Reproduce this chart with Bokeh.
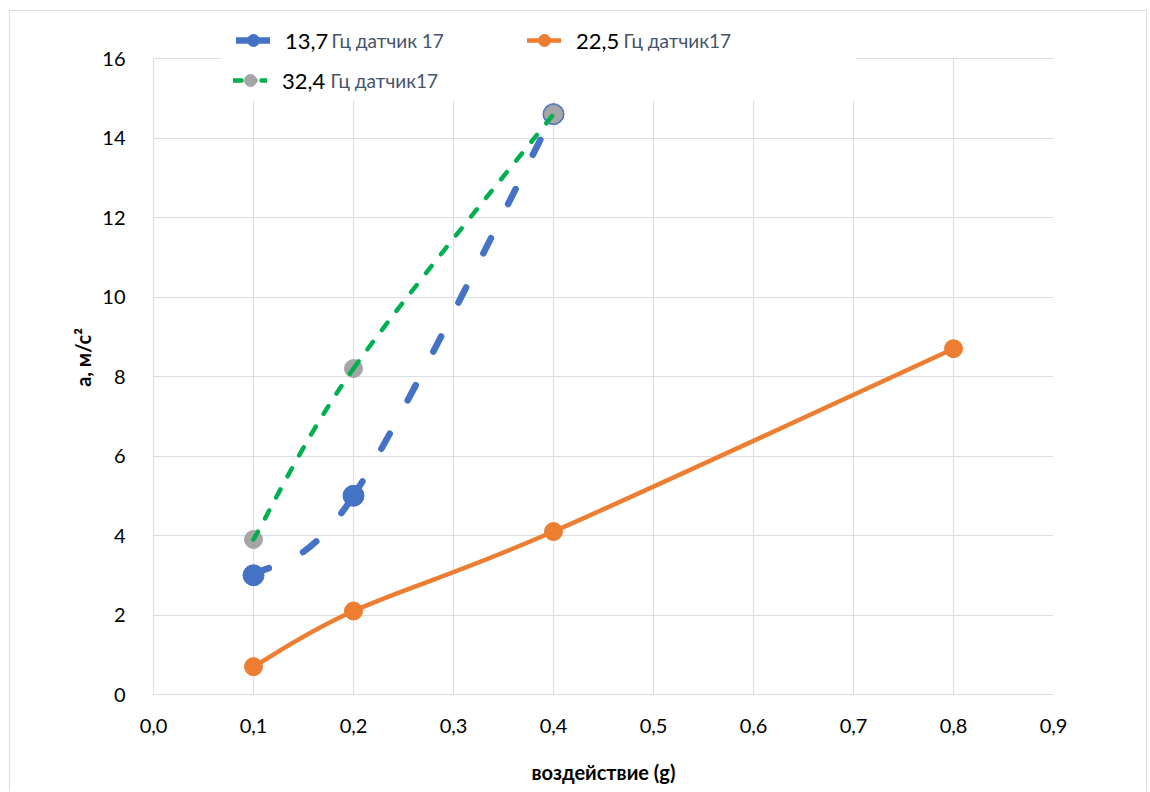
from bokeh.plotting import figure
from bokeh.models import (Range1d, FixedTicker, Legend, LegendItem, Label,
                          BoxAnnotation, ColumnDataSource)
from bokeh.embed import file_html
from bokeh.resources import INLINE

# ---------------- data ----------------
x_ticks = [0.0, 0.1, 0.2, 0.3, 0.4, 0.5, 0.6, 0.7, 0.8, 0.9]
x_tick_labels = ["0,0", "0,1", "0,2", "0,3", "0,4", "0,5", "0,6", "0,7", "0,8", "0,9"]
y_ticks = [0, 2, 4, 6, 8, 10, 12, 14, 16]
y_tick_labels = ["0", "2", "4", "6", "8", "10", "12", "14", "16"]

x_title = "воздействие (g)"
y_title = "а, м/с²"

s1_num, s1_rest = "13,7", "Гц датчик 17"
s1_x = [0.1, 0.2, 0.4]
s1_y = [3.0, 5.0, 14.6]

s2_num, s2_rest = "22,5", "Гц датчик17"
s2_x = [0.1, 0.2, 0.4, 0.8]
s2_y = [0.7, 2.1, 4.1, 8.7]

s3_num, s3_rest = "32,4", "Гц датчик17"
s3_x = [0.1, 0.2, 0.4]
s3_y = [3.9, 8.2, 14.6]

BLUE, ORANGE, GREEN, GRAY = "#4472C4", "#ED7D31", "#00B050", "#A5A5A5"
GRID = "#D9DEE6"
FONT = "Lato"
NAN = float("nan")

# layout (page pixels): plot frame for 0..16 spans y 58..694; frame extended up to 20
Y_MAX = y_ticks[-1]
FRAME_TOP, AXIS_TOP, AXIS_BOTTOM = 20, 58, 694
y_top = Y_MAX * (AXIS_BOTTOM - FRAME_TOP) / (AXIS_BOTTOM - AXIS_TOP)


def smooth_source(xs, ys, t=1.0 / 6.0):
    """Bezier control points (Excel-like smoothed line) for each segment."""
    n = len(xs)
    d = dict(x0=[], y0=[], x1=[], y1=[], cx0=[], cy0=[], cx1=[], cy1=[])
    for i in range(n - 1):
        a = max(i - 1, 0)
        b = min(i + 2, n - 1)
        d["x0"].append(xs[i]); d["y0"].append(ys[i])
        d["x1"].append(xs[i + 1]); d["y1"].append(ys[i + 1])
        d["cx0"].append(xs[i] + (xs[i + 1] - xs[a]) * t)
        d["cy0"].append(ys[i] + (ys[i + 1] - ys[a]) * t)
        d["cx1"].append(xs[i + 1] - (xs[b] - xs[i]) * t)
        d["cy1"].append(ys[i + 1] - (ys[b] - ys[i]) * t)
    return ColumnDataSource(d)


p = figure(width=1138, height=781,
           x_range=Range1d(0, 0.9), y_range=Range1d(0, y_top),
           output_backend="svg", toolbar_location=None,
           min_border_left=143, min_border_right=95,
           min_border_top=FRAME_TOP - 11, min_border_bottom=98)
p.styles = {"margin-left": "9px", "margin-top": "10px",
            "border-left": "1px solid #D9DEE6",
            "border-top": "1px solid #D9DEE6",
            "border-right": "1px solid #D9DEE6"}
p.outline_line_color = None
p.background_fill_color = "white"
p.border_fill_color = "white"

# axes
p.xaxis.ticker = FixedTicker(ticks=x_ticks)
p.xaxis.major_label_overrides = dict(zip(x_ticks, x_tick_labels))
p.yaxis.ticker = FixedTicker(ticks=y_ticks)
p.yaxis.major_label_overrides = dict(zip(y_ticks, y_tick_labels))
p.yaxis.bounds = (0, Y_MAX)
for ax in (p.xaxis, p.yaxis):
    ax.axis_line_color = GRID
    ax.major_tick_line_color = None
    ax.minor_tick_line_color = None
    ax.major_label_text_font = FONT
    ax.major_label_text_font_size = "20px"
    ax.major_label_text_color = "black"
    ax.axis_label_text_font = FONT
    ax.axis_label_text_font_size = "20px"
    ax.axis_label_text_font_style = "bold"
    ax.axis_label_text_color = "black"
p.xaxis.axis_label = x_title
p.yaxis.axis_label = y_title
p.xaxis.major_label_standoff = 18
p.xaxis.axis_label_standoff = 24
p.yaxis.major_label_standoff = 22
p.yaxis.axis_label_standoff = 4

p.xgrid.ticker = FixedTicker(ticks=x_ticks)
p.ygrid.ticker = FixedTicker(ticks=y_ticks)
p.xgrid.cross_bounds = (0, Y_MAX)
p.grid.grid_line_color = GRID
p.grid.grid_line_width = 1

# series 1 (blue, long dash)
p.bezier("x0", "y0", "x1", "y1", "cx0", "cy0", "cx1", "cy1",
         source=smooth_source(s1_x, s1_y), line_color=BLUE, line_width=6.5,
         line_dash="17 38", line_cap="round")
r1m = p.scatter(s1_x, s1_y, size=21, marker="circle", fill_color=BLUE, line_color=BLUE)

# series 2 (orange, solid)
p.bezier("x0", "y0", "x1", "y1", "cx0", "cy0", "cx1", "cy1",
         source=smooth_source(s2_x, s2_y), line_color=ORANGE, line_width=4.5,
         line_cap="round")
r2m = p.scatter(s2_x, s2_y, size=18, marker="circle", fill_color=ORANGE, line_color=ORANGE)

# series 3 (green short dash, gray markers)
r3m = p.scatter(s3_x, s3_y, size=18, marker="circle", fill_color=GRAY, line_color=GRAY)
p.bezier("x0", "y0", "x1", "y1", "cx0", "cy0", "cx1", "cy1",
         source=smooth_source(s3_x, s3_y), line_color=GREEN, line_width=4.5,
         line_dash="9 15", line_cap="round")

# legend background (white band hiding the grid under the legend)
p.add_layout(BoxAnnotation(left=0.067, right=0.702, bottom=14.94, top=y_top,
                           fill_color="white", fill_alpha=1.0, line_color=None))

# legend swatches (renderers that draw nothing in the plot, only in the legend)
l1 = p.line([NAN], [NAN], line_color=BLUE, line_width=6.5, line_cap="round")
l2 = p.line([NAN], [NAN], line_color=ORANGE, line_width=4.5, line_cap="round")
l3 = p.line([NAN], [NAN], line_color=GREEN, line_width=4.5, line_dash="8 6",
            line_cap="round")

ITEM_H = 30


def make_legend(label, rends, x, yc):
    lg = Legend(items=[LegendItem(label=label, renderers=rends)],
                location=(x, yc - ITEM_H // 2), orientation="horizontal",
                padding=0, margin=0, spacing=0,
                glyph_width=34, glyph_height=ITEM_H, label_height=ITEM_H,
                label_standoff=15,
                label_text_font=FONT, label_text_font_size="22px",
                label_text_color="black",
                background_fill_alpha=0, border_line_color=None)
    p.add_layout(lg, "center")


# legend rows: centres at page y 40 and 80 -> frame-from-bottom 654 and 614
make_legend(s1_num, [l1, r1m], 83, 654)
make_legend(s2_num, [l2, r2m], 374, 654)
make_legend(s3_num, [l3, r3m], 80, 614)

for txt, x, y in ((s1_rest, 178, 654), (s2_rest, 470, 654), (s3_rest, 177, 614)):
    p.add_layout(Label(x=x, y=y, x_units="screen", y_units="screen", text=txt,
                       text_font=FONT, text_font_size="19px", text_color="#44546A",
                       text_baseline="middle"))

open("out.html", "w").write(file_html(p, INLINE))
